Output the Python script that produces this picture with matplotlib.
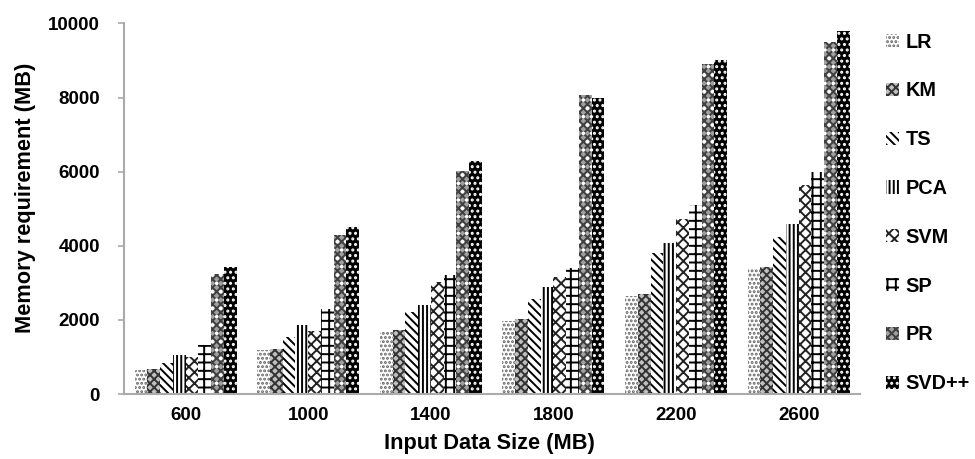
import numpy as np
import matplotlib
matplotlib.use("Agg")
import matplotlib.pyplot as plt

plt.rcParams["font.family"] = ["Liberation Sans", "DejaVu Sans"]
plt.rcParams["font.weight"] = "bold"
plt.rcParams["hatch.linewidth"] = 1.4

# Input sizes (MB) on the x axis
SIZES = ["600", "1000", "1400", "1800", "2200", "2600"]

# Memory requirement (MB) per workload
LR = [650, 1200, 1680, 1970, 2650, 3390]
KM = [680, 1220, 1720, 2020, 2710, 3430]
TS = [850, 1530, 2200, 2560, 3810, 4240]
PCA = [1040, 1850, 2400, 2890, 4080, 4600]
SVM = [990, 1700, 3030, 3160, 4730, 5630]
SP = [1320, 2300, 3220, 3390, 5100, 5990]
PR = [3230, 4300, 6010, 8060, 8910, 9500]
SVDPP = [3420, 4500, 6290, 8000, 9000, 9790]

NAMES = ["LR", "KM", "TS", "PCA", "SVM", "SP", "PR", "SVD++"]
SERIES = [LR, KM, TS, PCA, SVM, SP, PR, SVDPP]

# (facecolor, hatch colour, hatch, overlay hatch) to mimic the grayscale patterns
STYLES = [
    ("white", "#666666", "....", None),
    ("#c0c0c0", "#333333", "xxxx", None),
    ("white", "black", "\\\\\\\\", None),
    ("white", "black", "||||", None),
    ("white", "#222222", "xxx", None),
    ("white", "black", "++", None),
    ("#a0a0a0", "#404040", "xxxx", ".."),
    ("black", "white", "...", None),
]

fig, ax = plt.subplots(figsize=(9.75, 4.59), dpi=100)
fig.subplots_adjust(left=0.1275, right=0.882, bottom=0.1416, top=0.949)

x = np.arange(len(SIZES))
width = 0.104
for i, (name, vals) in enumerate(zip(NAMES, SERIES)):
    fc, hc, hatch, over = STYLES[i]
    off = (i - 3.5) * width
    ax.bar(x + off, vals, width, color=fc, edgecolor=hc, hatch=hatch,
           linewidth=0, label=name)
    if over:
        # white dots sprinkled on top of the PR texture
        ax.bar(x + off, vals, width, color="none", edgecolor="white",
               hatch=over, linewidth=0)

ax.set_xlim(-0.5, len(SIZES) - 0.5)
ax.set_ylim(0, 10000)
ax.set_yticks(np.arange(0, 10001, 2000))
ax.set_xticks(x)
ax.set_xticklabels(SIZES)
ax.tick_params(axis="x", length=0, pad=9, labelsize=13.5)
ax.tick_params(axis="y", length=4.5, width=1.2, color="#aaaaaa", direction="out",
               labelsize=13.5, pad=13)
for s in ["top", "right"]:
    ax.spines[s].set_visible(False)
for s in ["left", "bottom"]:
    ax.spines[s].set_color("#aaaaaa")
    ax.spines[s].set_linewidth(1.5)

ax.set_xlabel("Input Data Size (MB)", fontsize=15.7, fontweight="bold")
ax.set_ylabel("Memory requirement (MB)", fontsize=15.7, fontweight="bold")
ax.xaxis.set_label_coords(0.497, -0.105)
ax.yaxis.set_label_coords(-0.1196, 0.53)

ax.legend(loc="upper left", bbox_to_anchor=(1.035, 0.975), frameon=False,
          fontsize=14.3, handlelength=0.65, handleheight=0.65, handletextpad=0.35,
          labelspacing=1.5, borderaxespad=0, borderpad=0)

fig.savefig("out.png", dpi=100)
